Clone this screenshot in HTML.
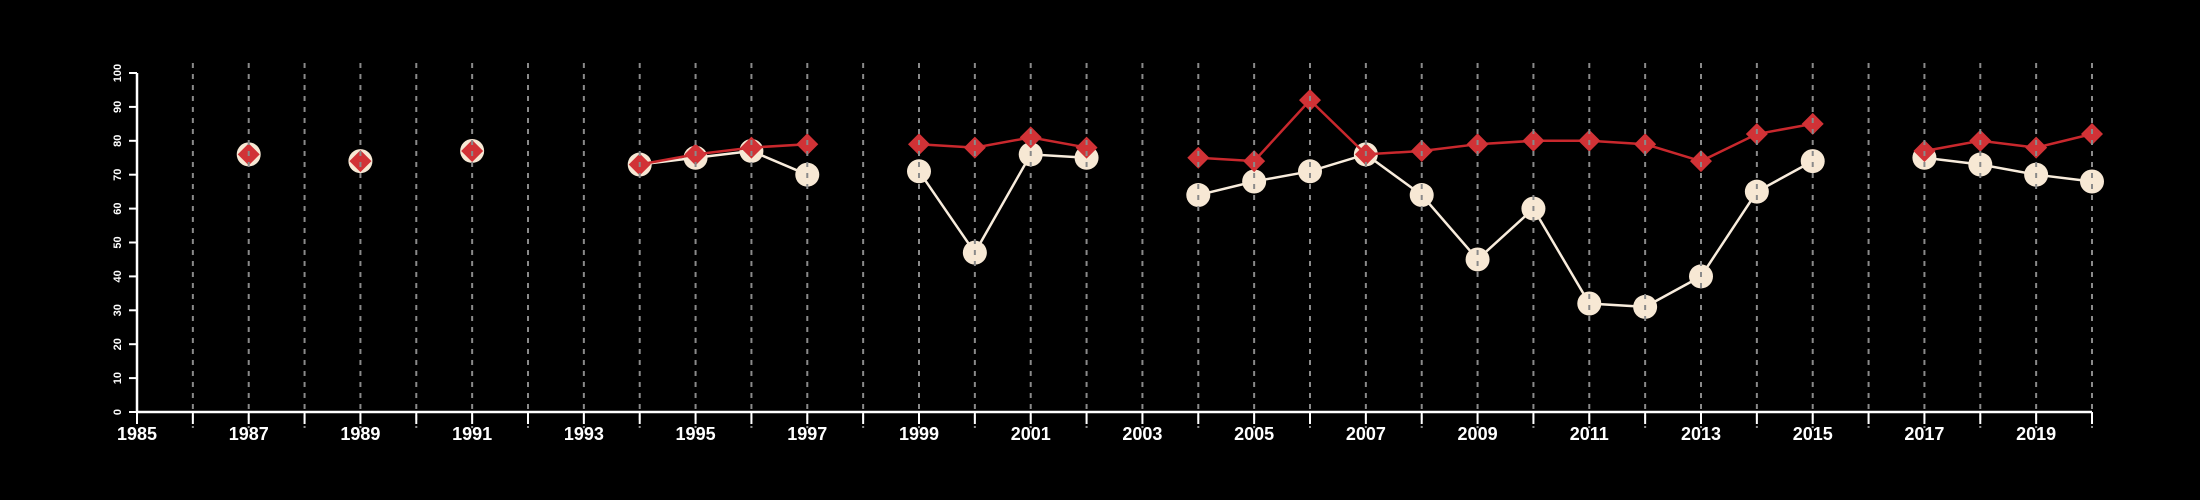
<!DOCTYPE html>
<html><head><meta charset="utf-8"><style>
html,body{margin:0;padding:0;background:#000;}
svg{display:block;font-family:"Liberation Sans",sans-serif;}
</style></head><body>
<svg id="chart" width="2200" height="500" viewBox="0 0 2200 500" xmlns="http://www.w3.org/2000/svg">
<rect width="2200" height="500" fill="#000"/>
</svg>
<script>
const years = [1987,1989,1991,1994,1995,1996,1997,1999,2000,2001,2002,2004,2005,2006,2007,2008,2009,2010,2011,2012,2013,2014,2015,2017,2018,2019,2020];
const seriesWhite = [76,74,77,73,75,77,70,71,47,76,75,64,68,71,76,64,45,60,32,31,40,65,74,75,73,70,68];
const seriesRed = [76,74,77,73,76,78,79,79,78,81,78,75,74,92,76,77,79,80,80,79,74,82,85,77,80,78,82];
const yTicks = [0,10,20,30,40,50,60,70,80,90,100];
const xLabelYears = [1985,1987,1989,1991,1993,1995,1997,1999,2001,2003,2005,2007,2009,2011,2013,2015,2017,2019];

const NS='http://www.w3.org/2000/svg';
const svg=document.getElementById('chart');
const X0=137, X1=2092, Y0=412, Y1=73;
const xMin=1985, xMax=2020;
function x(v){return X0+(v-xMin)/(xMax-xMin)*(X1-X0);}
function y(v){return Y0-v/100*(Y0-Y1);}
function mk(tag,attrs,parent){const e=document.createElementNS(NS,tag);for(const k in attrs)e.setAttribute(k,attrs[k]);(parent||svg).appendChild(e);return e;}

// segments: connect only consecutive years
function segments(vals){
  const segs=[];let cur=[];
  for(let i=0;i<years.length;i++){
    if(i>0 && years[i]-years[i-1]!==1){segs.push(cur);cur=[];}
    cur.push([x(years[i]),y(vals[i])]);
  }
  segs.push(cur);return segs.filter(s=>s.length>1);
}

// white line + circles
const gW=mk('g',{});


segments(seriesWhite).forEach(s=>{
  const p=mk('polyline',{points:s.map(q=>q.join(',')).join(' '),fill:'none',stroke:'#f8ecdc','stroke-width':2.5},gW);
  
  
});
years.forEach((yr,i)=>{
  const c=mk('circle',{cx:x(yr),cy:y(seriesWhite[i]),r:12,fill:'#f7e8d4'},gW);
  
  
});

// red line + diamonds
const gR=mk('g',{});


segments(seriesRed).forEach(s=>{
  const p=mk('polyline',{points:s.map(q=>q.join(',')).join(' '),fill:'none',stroke:'#c9282d','stroke-width':2.5},gR);
  
  
});
years.forEach((yr,i)=>{
  const cx=x(yr),cy=y(seriesRed[i]),d=11;
  const p=mk('polygon',{points:`${cx},${cy-d} ${cx+d},${cy} ${cx},${cy+d} ${cx-d},${cy}`,fill:'#d13236'},gR);
  
  
});

// gridlines (dashed, drawn over markers)
for(let yr=1986;yr<=2020;yr++){
  const l=mk('line',{x1:x(yr),x2:x(yr),y1:63,y2:428,stroke:'#8a8a8a','stroke-width':2,'stroke-dasharray':'5,6'});
  
  
}

// y axis
const ya=mk('line',{x1:X0,x2:X0,y1:Y1,y2:Y0,stroke:'#fff','stroke-width':2.5});


yTicks.forEach(t=>{
  const tk=mk('line',{x1:X0-8,x2:X0,y1:y(t),y2:y(t),stroke:'#fff','stroke-width':2});
  
  
  const tx=mk('text',{x:121,y:y(t),fill:'#fff','font-size':11,'font-weight':'bold','text-anchor':'middle',transform:`rotate(-90 121 ${y(t)})`});
  tx.textContent=t;
  
  
});

// x axis
const xa=mk('line',{x1:X0,x2:X1,y1:Y0,y2:Y0,stroke:'#fff','stroke-width':2.5});


for(let yr=1985;yr<=2020;yr++){
  const tk=mk('line',{x1:x(yr),x2:x(yr),y1:Y0,y2:Y0+12,stroke:'#fff','stroke-width':2});
  
  
}
xLabelYears.forEach(yr=>{
  const tx=mk('text',{x:x(yr),y:440,fill:'#fff','font-size':18,'font-weight':'bold','text-anchor':'middle'});
  tx.textContent=yr;
  
  
});
</script>
</body></html>
